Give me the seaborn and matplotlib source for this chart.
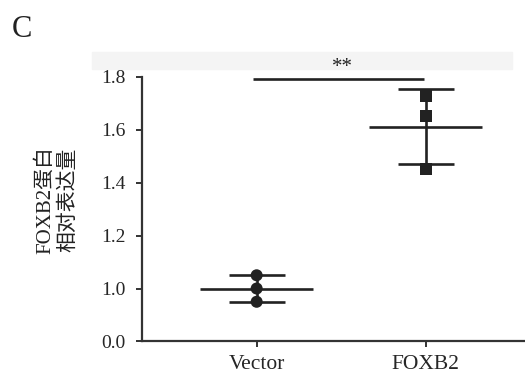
import numpy as np
import pandas as pd
import matplotlib
matplotlib.use('Agg')
import matplotlib.pyplot as plt
from matplotlib.patches import Rectangle
import seaborn as sns

# data
groups = ['Vector', 'FOXB2']
vector_vals = [1.05, 1.00, 0.95]
foxb2_vals = [1.728, 1.650, 1.453]
yticks = [0.0, 1.0, 1.2, 1.4, 1.6, 1.8]
ytick_labels = ['0.0', '1.0', '1.2', '1.4', '1.6', '1.8']
ylabel = 'FOXB2蛋白\n相对表达量'
sig_label = '**'

df = pd.DataFrame({
    'group': ['Vector'] * len(vector_vals) + ['FOXB2'] * len(foxb2_vals),
    'value': vector_vals + foxb2_vals,
})

sns.set_style('ticks')
plt.rcParams['font.family'] = ['Liberation Serif', 'Noto Sans CJK SC']
plt.rcParams['axes.unicode_minus'] = False

ink = '#222222'


# broken y axis: linear above 0.9, squeezed below
def fwd(y):
    y = np.asarray(y, dtype=float)
    return np.where(y >= 0.9, y, 0.8 + y / 0.9 * 0.1)


def inv(v):
    v = np.asarray(v, dtype=float)
    return np.where(v >= 0.9, v, (v - 0.8) / 0.1 * 0.9)


fig = plt.figure(figsize=(5.25, 3.76), dpi=100)
# faint grey band behind the header (scan artifact)
fig.patches.append(Rectangle((92 / 525, 1 - 69 / 376), 420 / 525, 17 / 376,
                             transform=fig.transFigure, color='#f4f4f4', zorder=-5))
ax = fig.add_axes([0.27, 0.0918, 0.73, 0.7042])
ax.set_zorder(2)
ax.patch.set_alpha(0)
ax.set_yscale('function', functions=(fwd, inv))

sns.scatterplot(data=df, x='group', y='value', style='group',
                markers={'Vector': 'o', 'FOXB2': 's'}, color=ink,
                s=75, edgecolor=ink, linewidth=0, legend=False, ax=ax, zorder=3)

for i, g in enumerate(groups):
    vals = df.loc[df['group'] == g, 'value']
    m, sd = vals.mean(), vals.std()
    ax.hlines(m, i - 0.335, i + 0.335, color=ink, lw=1.9, zorder=2)
    ax.errorbar(i, m, yerr=sd, fmt='none', ecolor=ink, elinewidth=1.9,
                capsize=20, capthick=1.9, zorder=2)

# significance bar
ax.hlines(1.79, -0.02, 0.99, color=ink, lw=1.9, clip_on=False)
ax.annotate(sig_label, xy=(0.51, 1.79), xytext=(0, 2), textcoords='offset points',
            ha='center', va='bottom', fontsize=15, color=ink, annotation_clip=False)

ax.set_xlim(-0.68, 1.588)
ax.set_ylim(0.0, 1.8)
ax.set_yticks(yticks)
ax.set_yticklabels(ytick_labels)
ax.set_xlabel('')
ax.set_ylabel('')

for side in ['top', 'right']:
    ax.spines[side].set_visible(False)
for side in ['left', 'bottom']:
    ax.spines[side].set_linewidth(1.6)
    ax.spines[side].set_color('#333333')
ax.tick_params(axis='both', direction='out', length=4.5, width=1.4, color='#333333')
ax.tick_params(axis='y', labelsize=14, pad=7)
ax.tick_params(axis='x', labelsize=15.5, pad=5)

fig.text(57 / 525, 1 - 200 / 376, ylabel, rotation=90, ha='center', va='center',
         multialignment='center', fontsize=15, linespacing=1.2, color=ink)
fig.text(12 / 525, 1 - 37 / 376, 'C', fontsize=22, ha='left', va='baseline', color=ink)

fig.savefig('out.png', dpi=100)
